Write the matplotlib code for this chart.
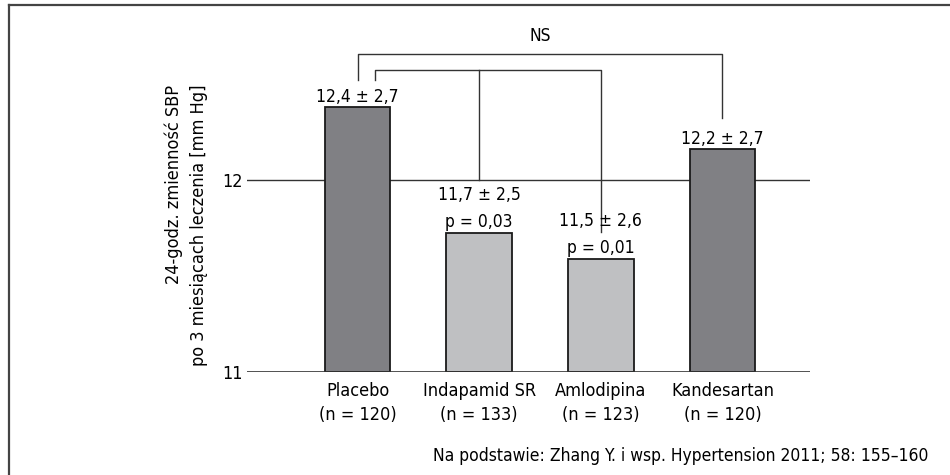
import matplotlib
matplotlib.use('Agg')
from matplotlib import pyplot as plt
from matplotlib import font_manager
from matplotlib.lines import Line2D

groups = ['Placebo\n(n = 120)', 'Indapamid SR\n(n = 133)', 'Amlodipina\n(n = 123)', 'Kandesartan\n(n = 120)']
heights = [12.375, 11.725, 11.59, 12.157]
mean_labels = ['12,4 ± 2,7', '11,7 ± 2,5', '11,5 ± 2,6', '12,2 ± 2,7']
p_labels = ['', 'p = 0,03', 'p = 0,01', '']
bar_colors = ['#808084', '#bfc0c2', '#bfc0c2', '#808084']

# look for a narrow font, the original uses a condensed grotesque
narrow = None
for f in font_manager.fontManager.ttflist:
    fn = f.fname.lower()
    if ('narrow' in fn or 'condensed' in fn) and 'bold' not in fn and 'italic' not in fn \
            and 'oblique' not in fn and f.weight in (400, 'normal', 'regular'):
        narrow = f
        break

if narrow is not None:
    plt.rcParams['font.family'] = [narrow.name, 'DejaVu Sans']
    plt.rcParams['font.stretch'] = narrow.stretch
    fs, fs_val = 13, 12.5
else:
    plt.rcParams['font.family'] = ['Liberation Sans', 'DejaVu Sans']
    fs, fs_val = 11.5, 11
plt.rcParams['font.size'] = fs

fig = plt.figure(figsize=(9.5, 4.75), dpi=100)
ax = fig.add_axes([0.26, 0.2162, 0.5926, 0.7103])
x = list(range(len(groups)))
ax.bar(x, [h - 11 for h in heights], bottom=11, width=0.54, color=bar_colors,
       edgecolor='#1a1a1a', linewidth=1.3, zorder=3)
ax.set_xlim(-0.91, 3.72)
ax.set_ylim(11, 12.75)
for s in ax.spines.values():
    s.set_visible(False)
ax.axhline(12, color='#333333', lw=1, zorder=1)
ax.axhline(11, color='#333333', lw=1.2, zorder=4)
ax.set_yticks([11, 12])
ax.set_yticklabels(['11', '12'])
ax.tick_params(axis='y', length=0, pad=3, labelsize=fs)
ax.set_xticks(x)
ax.set_xticklabels(groups, fontsize=fs, linespacing=1.45)
ax.tick_params(axis='x', length=0, pad=7)

# value labels
for xi, h, m, p in zip(x, heights, mean_labels, p_labels):
    if p:
        ax.annotate(p, (xi, h), xytext=(0, 4), textcoords='offset points',
                    ha='center', va='baseline', fontsize=fs_val)
        ax.annotate(m, (xi, h), xytext=(0, 23.5), textcoords='offset points',
                    ha='center', va='baseline', fontsize=fs_val)
    else:
        ax.annotate(m, (xi, h), xytext=(0, 4), textcoords='offset points',
                    ha='center', va='baseline', fontsize=fs_val)

# brackets
lc = '#333333'
ax.plot([0, 0, 3, 3], [12.514, 12.65, 12.65, 12.317], color=lc, lw=1, clip_on=False)
ax.plot([0.14, 0.14, 2, 2], [12.514, 12.57, 12.57, 11.73], color=lc, lw=1, clip_on=False)
ax.plot([1, 1], [12.57, 12.0], color=lc, lw=1)
ax.text(1.5, 12.72, 'NS', ha='center', va='baseline', fontsize=fs_val)

fig.text(186 / 950, 1 - 85 / 475, '24-godz. zmienność SBP\npo 3 miesiącach leczenia [mm Hg]',
         rotation=90, ha='center', va='top', multialignment='right', fontsize=fs,
         linespacing=1.5)
fig.text(928 / 950, 1 - 461 / 475, 'Na podstawie: Zhang Y. i wsp. Hypertension 2011; 58: 155–160',
         ha='right', va='baseline', fontsize=fs_val)

# frame (top and left)
fig.add_artist(Line2D([9 / 950, 1], [1 - 5 / 475, 1 - 5 / 475], color='#444444', lw=1.6))
fig.add_artist(Line2D([9 / 950, 9 / 950], [0, 1 - 5 / 475], color='#444444', lw=1.6))

fig.savefig('out.png', dpi=100)
